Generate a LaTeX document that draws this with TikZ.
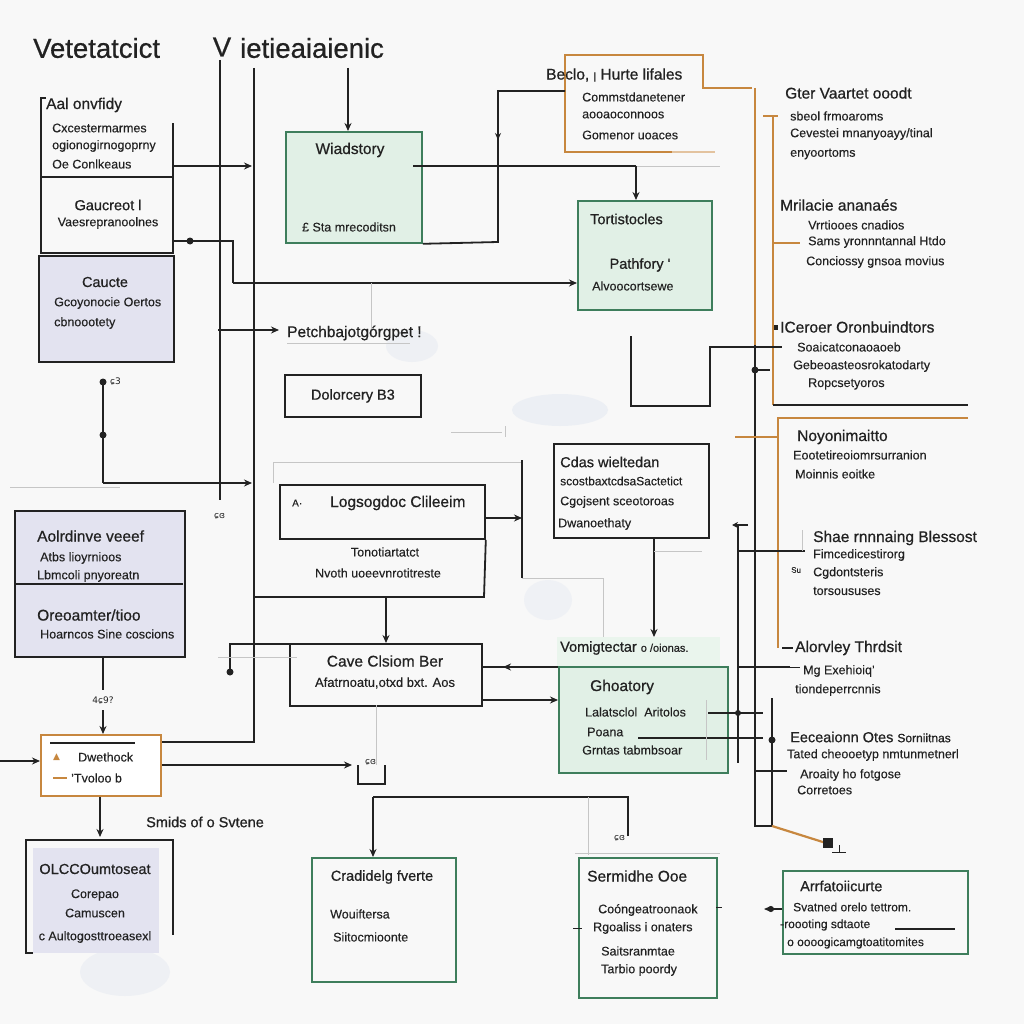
\documentclass[tikz,border=0pt]{standalone}
\usepackage{fontspec}
\setmainfont{Liberation Sans}[FakeBold=0.25]
\newfontfamily\hf{Liberation Sans}[FakeBold=0.7]
\newfontfamily\dv{DejaVu Sans}
\usetikzlibrary{arrows.meta,calc}
\definecolor{ink}{HTML}{222222}
\definecolor{gfill}{HTML}{E1F0E6}
\definecolor{gline}{HTML}{3E7E5C}
\definecolor{pfill}{HTML}{E3E3F0}
\definecolor{orng}{HTML}{C7873F}
\definecolor{bgc}{HTML}{F8F8F8}
\definecolor{blob}{HTML}{DCE3EF}
\tikzset{
 ln/.style={draw=ink, line width=1.8pt},
 ar/.style={ln, -{Stealth[length=8pt,width=7pt]}},
 lgray/.style={draw=gray!45, line width=0.9pt},
 orl/.style={draw=orng, line width=1.8pt},
 box/.style={draw=ink, line width=1.8pt, anchor=north west, inner sep=0pt},
 gbox/.style={box, draw=gline, fill=gfill},
 pbox/.style={box, fill=pfill},
 tb/.style={anchor=west, inner sep=0pt, text=ink, font=\fontsize{12.5}{14}\selectfont},
 tc/.style={tb, anchor=center},
 hb/.style={anchor=west, inner sep=0pt, text=ink, font=\hf\fontsize{15.5}{17}\selectfont},
 hc/.style={hb, anchor=center},
 big/.style={anchor=west, inner sep=0pt, text=ink, font=\hf\fontsize{27.5}{31}\selectfont},
 mid/.style={font=\hf\fontsize{14.5}{16}\selectfont},
}
\begin{document}
\begin{tikzpicture}[x=1pt,y=-1pt]
\useasboundingbox[fill=bgc] (0,0) rectangle (1024,1024);
% soft blobs
\fill[blob, opacity=0.35] (412,346) ellipse (26 and 16);
\fill[blob, opacity=0.4] (560,410) ellipse (48 and 16);
\fill[blob, opacity=0.3] (548,600) ellipse (24 and 20);
\fill[blob, opacity=0.35] (125,972) ellipse (45 and 24);

% ---------- boxes ----------
\node[pbox, minimum width=135, minimum height=106] (caucte) at (38,255) {};
\node[gbox, minimum width=136, minimum height=111] (wiad) at (285,131) {};
\node[gbox, minimum width=134, minimum height=109] (tort) at (577,200) {};
\node[box, minimum width=136, minimum height=42] (dolor) at (284,374) {};
\node[box, minimum width=205, minimum height=54] (logs) at (279,484) {};
\node[box, minimum width=155, minimum height=94] (cdas) at (553,443) {};
\node[box, minimum width=192, minimum height=62] (cave) at (289,643) {};
\fill[gfill!70!white] (557,637) rectangle (720,666);
\node[gbox, minimum width=169, minimum height=106] (ghoat) at (558,666) {};
\node[pbox, minimum width=170, minimum height=146] (adrain) at (14,510) {};
\node[box, draw=orng, fill=white, minimum width=120, minimum height=61] (dweth) at (40,734) {};
\fill[pfill] (33,848) rectangle (159,953);
\node[box, draw=gline, fill=bgc, minimum width=144, minimum height=124] (crad) at (311,857) {};
\node[box, draw=gline, fill=bgc, minimum width=138, minimum height=140] (serv) at (578,857) {};
\node[box, draw=gline, fill=bgc, minimum width=185, minimum height=83] (afrt) at (782,870) {};

% brackets / partial boxes
\draw[ln] (46,98) -- (41,98) -- (41,253) -- (173,253) -- (173,123);
\draw[ln] (41,177) -- (173,177);
\draw[ln] (adrain.west |- 0,584) -- (183,584);
\draw[ln] (33,953) -- (26,953) -- (26,840) -- (173,840) -- (173,935);
\draw[ln] (254,597) -- (484,597) -- (logs.south east);
\draw[ln] (50,743) -- (135,743);
\draw[orl] (672,152) -- (565,152) -- (565,55) -- (703,55) -- (703,88) -- (752,88);
\draw[draw=orng!50, line width=1.5pt] (672,152) -- (715,152);

% ---------- long verticals ----------
\draw[ln] (220,60) -- (220,500);
\draw[ln] (254,68) -- (254,742) -- (dweth.east |- 0,742);
\draw[ar] (348,68) -- (wiad.north -| 348,0);
\draw[ar] (173,166) -- (252,166);
\draw[ln] (173,241) -- (233,241) -- (233,283);
\draw[ar] (233,283) -- (tort.west |- 0,283);
\fill[ink] (190,241) circle (3.5);
\draw[lgray] (371,283) -- (371,330);
\draw[ln] (413,166) -- (636,166);
\draw[lgray] (636,166) -- (720,166);
\draw[ar] (636,166) -- (tort.north -| 636,0);
\draw[ln] (wiad.south east) -- (498,242) -- (498,91) -- (565,91);
\draw[ln, -{Stealth[length=7pt,width=6pt]}] (498,120) -- (498,140);

% right column lines
\draw[orl] (755,88) -- (755,400);
\draw[ln] (755,345) -- (755,826) -- (772,826);
\draw[orl] (773,116) -- (773,405);
\draw[orl] (763,116) -- (778,116);
\draw[orl] (773,243) -- (800,243);
\draw[ln] (773,405) -- (968,405);
\draw[ln] (631,336) -- (631,406) -- (710,406) -- (710,347) -- (782,347);
\fill[ink] (755,370) circle (3.5);
\draw[ln] (755,370) -- (770,370);
\draw[orl] (968,418) -- (778,418) -- (778,648);
\draw[orl] (735,437) -- (778,437);
\draw[ln] (782,648) -- (793,648);
\draw[ln] (738,525) -- (738,763);
\draw[ln, -{Stealth[length=6pt,width=6pt]}] (748,525) -- (732,525);
\draw[ln] (738,551) -- (805,551);
\draw[lgray] (802,530) -- (802,551);
\draw[ln] (738,667) -- (790,667);
\draw[ln, line width=1pt] (790,667) -- (800,667);
\draw[ln] (772,698) -- (772,826);
\fill[ink] (772,740) circle (3.5);
\draw[ln] (755,771) -- (787,771);
\draw[orl, line width=2.2pt] (772,826) -- (826,843);
\fill[ink] (823,838) rectangle (833,848);
\draw[ln, line width=1pt] (832,852) -- (846,852) (839,845) -- (839,852);

% middle connections
\draw[ln] (218,330) -- (228,330);
\draw[ar] (228,330) -- (279,330);
\draw[lgray] (287,343) -- (410,343);
\draw[lgray] (451,432) -- (502,432);
\draw[lgray] (505,426) -- (505,437);
\draw[lgray] (273,483) -- (273,462) -- (522,462);
\draw[ln] (522,460) -- (522,578);
\draw[ar] (logs.east |- 0,518) -- (522,518);
\draw[lgray] (522,578) -- (603,578) -- (603,637);
\draw[ar] (386,597) -- (cave.north -| 386,0);
\draw[ar] (cdas.south -| 654,0) -- (654,637);
\draw[lgray] (654,551) -- (702,551);
\draw[ln] (230,672) -- (230,644) -- (cave.west |- 0,644);
\fill[ink] (230,672) circle (3.5);
\draw[lgray] (218,657) -- (297,657);
\draw[ln] (ghoat.west |- 0,667) -- (505,667);
\draw[ln, -{Stealth[length=8pt,width=7pt]}] (520,667) -- (503,667);
\draw[ln] (505,667) -- (cave.east |- 0,667);
\draw[ar] (cave.east |- 0,700) -- (ghoat.west |- 0,700);
\draw[ln] (708,713) -- (763,713);
\draw[ln] (638,738) -- (763,738);
\fill[ink] (738,713) circle (3);
\draw[lgray] (706,700) -- (706,760);

% left connections
\draw[ln] (103,382) -- (103,483);
\draw[ar] (103,483) -- (252,483);
\fill[ink] (103,382) circle (3.5);
\fill[ink] (103,435) circle (3.5);
\draw[lgray] (10,487) -- (120,487);
\draw[ln] (adrain.south -| 103,0) -- (103,690);
\draw[ar] (103,710) -- (dweth.north -| 103,0);
\draw[ar] (0,761) -- (dweth.west |- 0,761);
\draw[ar] (dweth.east |- 0,765) -- (352,765);
\draw[ln] (358,765) -- (358,784) -- (385,784) -- (385,765);
\draw[lgray] (376,705) -- (376,765);
\draw[ar] (dweth.south -| 100,0) -- (100,837);

% bottom connections
\draw[ln] (628,836) -- (628,797) -- (373,797);
\draw[ar] (373,797) -- (crad.north -| 373,0);
\draw[lgray] (588,797) -- (588,855);
\draw[lgray] (575,853) -- (720,853);
\draw[ln, line width=1pt] (716,907) -- (722,907);
\draw[ln, line width=1pt] (573,928) -- (582,928);
\draw[ln, -{Stealth[length=7pt,width=6pt]}] (782,909) -- (764,909);
\fill[ink] (771,909) circle (3);
\draw[ln, line width=1.2pt] (895,929) -- (955,929);

% ---------- texts ----------
\node[big] (title1) at (33,48) {Vetetatcict};
\node[big, anchor=center] (titlev) at (222,47) {V};
\node[big] (title2) at (240,48) {ietieaiaienic};

\node[hb] (a0) at (46,105) {Aal onvfidy};
\node[tb] (a1) at (52,128) {Cxcestermarmes};
\node[tb] (a2) at (52,146) {ogionogirnogoprny};
\node[tb] (a3) at (52,164) {Oe Conlkeaus};
\node[hc, mid] (a4) at (108,205) {Gaucreot l};
\node[tc] (a5) at (108,223) {Vaesrepranoolnes};

\node[hc, mid] (c0) at (105,282) {Caucte};
\node[tb] (c1) at (54,303) {Gcoyonocie Oertos};
\node[tb] (c2) at (54,323) {cbnoootety};
\node[tb, font=\dv\fontsize{9}{10}\selectfont] (c3) at (110,381) {ɕ3};

\node[hc] (w0) at (350,150) {Wiadstory};
\node[tc] (w1) at (349,227) {£ Sta mrecoditsn};

\node[hb] (b0) at (546,75) {Beclo, {\fontsize{10}{10}\selectfont|} Hurte lifales};
\node[tb] (b1) at (582,97) {Commstdanetener};
\node[tb] (b2) at (582,115) {aooaoconnoos};
\node[tb] (b3) at (582,135) {Gomenor uoaces};

\node[hb, mid] (p0) at (590,219) {Tortistocles};
\node[hc, mid] (p1) at (640,265) {Pathfory '};
\node[tb] (p2) at (592,286) {Alvoocortsewe};

\node[hb] (pb) at (287,333) {Petchbajotgórgpet !};
\node[hc, mid] (d0) at (dolor.center) {Dolorcery B3};

\node[tb, font=\dv\fontsize{9}{10}\selectfont] (l3) at (214,516) {ɕɞ};
\node[tb, font=\fontsize{10}{12}\selectfont] (l0) at (292,503) {A·};
\node[hb] (l1) at (330,503) {Logsogdoc Clileeim};
\node[tc] (l2) at (385,552) {Tonotiartatct};
\node[tc] (l4) at (378,573) {Nvoth uoeevnrotitreste};

\node[hb, mid] (k0) at (560,462) {Cdas wieltedan};
\node[tb, font=\fontsize{12}{14}\selectfont] (k1) at (560,481) {scostbaxtcdsaSactetict};
\node[tb] (k2) at (560,502) {Cgojsent sceotoroas};
\node[tb] (k3) at (558,524) {Dwanoethaty};

\node[hc] (v0) at (385,661) {Cave Clsiom Ber};
\node[tc, font=\fontsize{13}{15}\selectfont] (v1) at (385,683) {Afatrnoatu,otxd bxt. Aos};

\node[hb, mid] (g0) at (560,648) {Vomigtectar {\fontsize{11}{12}\selectfont o /oionas.}};
\node[hb] (g1) at (590,687) {Ghoatory};
\node[tb] (g2) at (585,712) {Lalatsclol \ Aritolos};
\node[tb] (g3) at (587,732) {Poana};
\node[tb] (g4) at (582,750) {Grntas tabmbsoar};

\node[hb] (r0) at (37,536) {Aolrdinve veeef};
\node[tb] (r1) at (40,558) {Atbs lioyrnioos};
\node[tb] (r2) at (37,576) {Lbmcoli pnyoreatn};
\node[hb] (r3) at (37,615) {Oreoamter/tioo};
\node[tb] (r4) at (40,634) {Hoarncos Sine coscions};
\node[tc, font=\dv\fontsize{9}{10}\selectfont] (r5) at (103,700) {4ɕ9?};

\node[tb, text=orng, font=\dv\fontsize{9}{10}\selectfont] (e0) at (53,757) {▲};
\node[tb] (e1) at (78,757) {Dwethock};
\draw[orl] (53,778) -- (67,778);
\node[tb] (e2) at (71,778) {'Tvoloo b};
\node[tb, font=\dv\fontsize{9}{10}\selectfont] (e3) at (365,762) {ɕɞ};

\node[hb, mid] (s0) at (146,822) {Smids of o Svtene};
\node[hc, mid] (o0) at (95,869) {OLCCOumtoseat};
\node[tc] (o1) at (95,895) {Corepao};
\node[tc] (o2) at (95,913) {Camuscen};
\node[tc] (o3) at (95,937) {c Aultogosttroeasexl};

\node[hc, mid] (q0) at (382,877) {Cradidelg fverte};
\node[tb] (q1) at (330,914) {Wouiftersa};
\node[tb] (q2) at (333,937) {Siitocmioonte};

\node[tb, font=\dv\fontsize{9}{10}\selectfont] (n9) at (614,838) {ɕɞ};
\node[hb] (n0) at (587,876) {Sermidhe Ooe};
\node[tb] (n1) at (598,910) {Coóngeatroonaok};
\node[tb] (n2) at (593,928) {Rgoaliss i onaters};
\node[tb] (n3) at (601,951) {Saitsranmtae};
\node[tb] (n4) at (601,970) {Tarbio poordy};

\node[hb, mid] (f0) at (800,886) {Arrfatoiicurte};
\node[tb, font=\fontsize{12}{14}\selectfont] (f1) at (793,907) {Svatned orelo tettrom.};
\node[tb, font=\fontsize{12}{14}\selectfont] (f2) at (780,925) {-roooting sdtaote};
\node[tb, font=\fontsize{12}{14}\selectfont] (f3) at (787,943) {o oooogicamgtoatitomites};

% right column
\node[hb] (x0) at (785,93) {Gter Vaartet ooodt};
\node[tb] (x1) at (790,116) {sbeol frmoaroms};
\node[tb] (x2) at (790,134) {Cevestei mnanyoayy/tinal};
\node[tb] (x3) at (790,154) {enyoortoms};
\node[hb] (y0) at (780,205) {Mrilacie ananaés};
\node[tb] (y1) at (808,225) {Vrrtiooes cnadios};
\node[tb] (y2) at (808,242) {Sams yronnntannal Htdo};
\node[tb] (y3) at (806,262) {Conciossy gnsoa movius};
\fill[ink] (774,325) rectangle (778,330);
\node[hb] (z0) at (780,327) {ICeroer Oronbuindtors};
\node[tb] (z1) at (797,347) {Soaicatconaoaoeb};
\node[tb] (z2) at (793,366) {Gebeoasteosrokatodarty};
\node[tb] (z3) at (808,384) {Ropcsetyoros};
\node[hb] (u0) at (797,437) {Noyonimaitto};
\node[tb] (u1) at (793,455) {Eootetireoiomrsurranion};
\node[tb] (u2) at (795,474) {Moinnis eoitke};
\node[hb] (h0) at (813,538) {Shae rnnnaing Blessost};
\node[tb] (h1) at (813,555) {Fimcedicestirorg};
\node[tb, font=\fontsize{8}{9}\selectfont] (h2) at (791,570) {Su};
\node[tb] (h3) at (813,573) {Cgdontsteris};
\node[tb] (h4) at (813,591) {torsoususes};
\node[hb] (m0) at (795,648) {Alorvley Thrdsit};
\node[tb] (m1) at (803,671) {Mg Exehioiq'};
\node[tb] (m2) at (795,690) {tiondeperrcnnis};
\node[hb, mid] (j0) at (790,737) {Eeceaionn Otes {\fontsize{12}{13}\selectfont Sorniitnas}};
\node[tb] (j1) at (787,755) {Tated cheooetyp nmtunmetnerl};
\node[tb] (j2) at (800,775) {Aroaity ho fotgose};
\node[tb] (j3) at (797,790) {Corretoes};
\end{tikzpicture}
\end{document}
